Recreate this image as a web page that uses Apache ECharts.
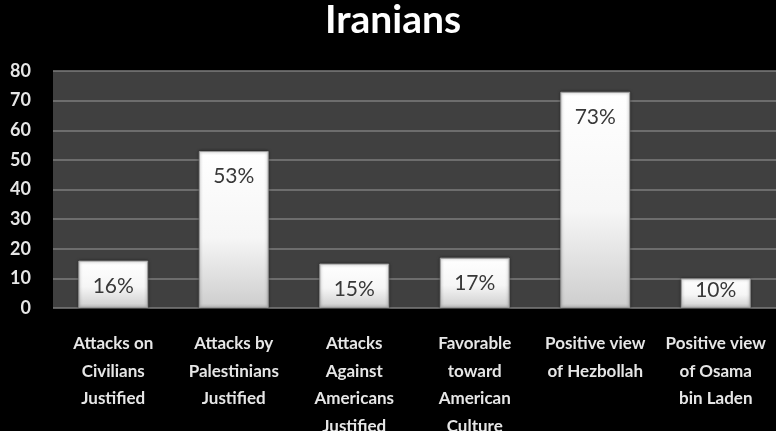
<!DOCTYPE html>
<html>
<head>
<meta charset="utf-8">
<script src="https://cdn.jsdelivr.net/npm/echarts@6/dist/echarts.min.js"></script>
<style>
  html, body { margin: 0; padding: 0; background: #000; }
  #chart { width: 776px; height: 431px; }
</style>
</head>
<body>
<div id="chart"></div>
<script>
// Survey results: share of respondents agreeing with each statement
const categories = [
  'Attacks on\nCivilians\nJustified',
  'Attacks by\nPalestinians\nJustified',
  'Attacks\nAgainst\nAmericans\nJustified',
  'Favorable\ntoward\nAmerican\nCulture',
  'Positive view\nof Hezbollah',
  'Positive view\nof Osama\nbin Laden'
];
const percents = [16, 53, 15, 17, 73, 10];
const yTicks = [0, 10, 20, 30, 40, 50, 60, 70, 80];

const FONT = 'Lato, "Open Sans", sans-serif';

const chart = echarts.init(document.getElementById('chart'), null, { renderer: 'canvas' });

const barFill = new echarts.graphic.LinearGradient(0, 0, 0, 1, [
  { offset: 0, color: '#ffffff' },
  { offset: 0.55, color: '#f6f6f6' },
  { offset: 1, color: '#cdcdcd' }
]);

chart.setOption({
  backgroundColor: '#000000',
  animation: false,
  title: {
    text: 'Iranians',
    left: 388,
    textAlign: 'center',
    top: -4,
    textStyle: { color: '#ffffff', fontFamily: FONT, fontWeight: 'bold', fontSize: 39 }
  },
  grid: {
    left: 53, right: 0, top: 71, bottom: 123,
    outerBoundsMode: 'none',
    containLabel: false,
    show: true, backgroundColor: '#404040', borderWidth: 0
  },
  xAxis: {
    type: 'category',
    data: categories,
    axisLine: { show: false },
    axisTick: { show: false },
    axisLabel: {
      interval: 0,
      margin: 22,
      color: '#e6e6e6',
      fontFamily: FONT,
      fontWeight: 'bold',
      fontSize: 17,
      lineHeight: 27.5,
      align: 'center',
      verticalAlign: 'top'
    }
  },
  yAxis: {
    type: 'value',
    min: yTicks[0],
    max: yTicks[yTicks.length - 1],
    interval: yTicks[1] - yTicks[0],
    axisLine: { show: false },
    axisTick: { show: false },
    axisLabel: {
      color: '#e6e6e6',
      fontFamily: FONT,
      fontWeight: 'bold',
      fontSize: 18,
      margin: 22
    },
    splitLine: { lineStyle: { color: '#7c7c7c', width: 1.5 } }
  },
  series: [{
    type: 'bar',
    data: percents.map((v, i) => ({
      value: v,
      // the shortest bar keeps its label snug against the top edge
      label: i === percents.length - 1 ? { distance: 1 } : {}
    })),
    barWidth: '58%',
    itemStyle: {
      color: barFill,
      borderColor: '#9a9a9a',
      borderWidth: 1,
      shadowColor: 'rgba(0,0,0,0.5)',
      shadowBlur: 3
    },
    label: {
      show: true,
      position: 'insideTop',
      distance: 15,
      formatter: '{c}%',
      color: '#383838',
      fontFamily: FONT,
      fontSize: 21
    }
  }]
});
</script>
</body>
</html>
